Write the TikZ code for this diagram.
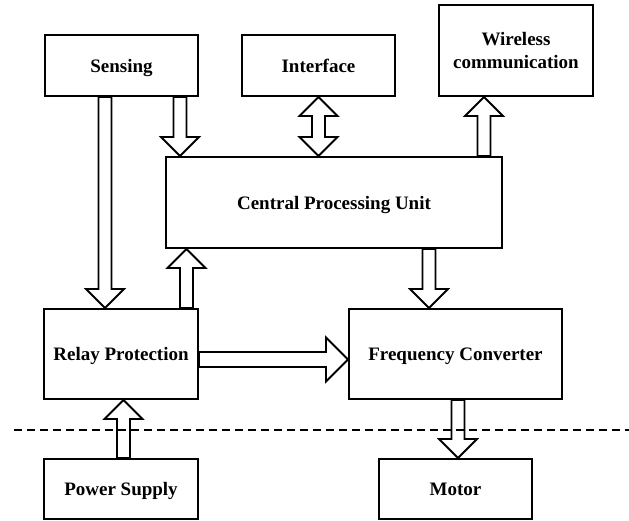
\documentclass[tikz,border=0pt]{standalone}
\usepackage{fontspec}
\setmainfont{Liberation Serif}
\usetikzlibrary{calc}

% hollow block arrow from #1 to #2 (named coordinates)
\def\arrShaft{6.5pt}
\def\arrHead{19pt}
\def\arrHeadL{19pt}
\newcommand\blockarr[2]{%
  \coordinate (hd) at ($(#2)!\arrHeadL!(#1)$);
  \draw[blockarrow] ($(#1)!\arrShaft!90:(#2)$) -- ($(hd)!\arrShaft!-90:(#1)$)
    -- ($(hd)!\arrHead!-90:(#1)$) -- (#2) -- ($(hd)!\arrHead!90:(#1)$)
    -- ($(hd)!\arrShaft!90:(#1)$) -- ($(#1)!\arrShaft!-90:(#2)$) -- cycle;}
% hollow double-headed block arrow between #1 and #2
\newcommand\blockdarr[2]{%
  \coordinate (ha) at ($(#1)!\arrHeadL!(#2)$);
  \coordinate (hb) at ($(#2)!\arrHeadL!(#1)$);
  \draw[blockarrow] (#1) -- ($(ha)!\arrHead!90:(#2)$) -- ($(ha)!\arrShaft!90:(#2)$)
    -- ($(hb)!\arrShaft!-90:(#1)$) -- ($(hb)!\arrHead!-90:(#1)$) -- (#2)
    -- ($(hb)!\arrHead!90:(#1)$) -- ($(hb)!\arrShaft!90:(#1)$)
    -- ($(ha)!\arrShaft!-90:(#2)$) -- ($(ha)!\arrHead!-90:(#2)$) -- cycle;}

\begin{document}
\begin{tikzpicture}[x=1pt,y=-1pt,
  box/.style={draw, line width=2pt, inner sep=0pt, align=center, text depth=0pt,
    font=\fontsize{19}{23}\selectfont\bfseries},
  blockarrow/.style={draw, line width=1.8pt, line join=miter},
  divider/.style={line width=1.8pt, dash pattern=on 8pt off 5pt}]
\useasboundingbox (0,0) rectangle (629,521);

\node[box, minimum width=153pt, minimum height=61pt] (sens)  at (121.5,65.5) {Sensing};
\node[box, minimum width=153pt, minimum height=61pt] (intf)  at (318.5,65.5) {Interface};
\node[box, minimum width=154pt, minimum height=91pt] (wire)  at (516,50.5) {Wireless\\communication};
\node[box, minimum width=336pt, minimum height=91pt] (cpu)   at (334,202.5) {Central Processing Unit};
\node[box, minimum width=154pt, minimum height=90pt] (relay) at (121,354) {Relay Protection};
\node[box, minimum width=213pt, minimum height=90pt] (freq)  at (455.5,354) {Frequency Converter};
\node[box, minimum width=154pt, minimum height=60pt] (power) at (121,489) {Power Supply};
\node[box, minimum width=153pt, minimum height=60pt] (motor) at (455.5,489) {Motor};

% dashed boundary line
\coordinate (dl) at (14,430);
\coordinate (dr) at (629,430);
\draw[divider] (dl) -- (dr);

% arrow end points
\coordinate (a1) at ($(sens.south west)+(61,0)$);   \coordinate (b1) at (a1 |- relay.north);
\coordinate (a2) at ($(sens.south west)+(136,0)$);  \coordinate (b2) at (a2 |- cpu.north);
\coordinate (a3) at (intf.south);                   \coordinate (b3) at (a3 |- cpu.north);
\coordinate (a4) at ($(cpu.north east)+(-19,0)$);   \coordinate (b4) at (a4 |- wire.south);
\coordinate (a5) at ($(relay.north east)+(-12.5,0)$); \coordinate (b5) at (a5 |- cpu.south);
\coordinate (b6) at ($(freq.north)+(-26.5,0)$);     \coordinate (a6) at (b6 |- cpu.south);
\coordinate (a7) at ($(relay.east)+(0,5.5)$);       \coordinate (b7) at (a7 -| freq.west);
\coordinate (a8) at ($(power.north)+(2.5,0)$);      \coordinate (b8) at (a8 |- relay.south);
\coordinate (a9) at ($(freq.south)+(2.5,0)$);       \coordinate (b9) at (a9 |- motor.north);

\blockarr{a1}{b1}
\blockarr{a2}{b2}
\blockdarr{a3}{b3}
\blockarr{a4}{b4}
\blockarr{a5}{b5}
\blockarr{a6}{b6}
{\def\arrShaft{7.5pt}\def\arrHead{22pt}\def\arrHeadL{22pt}\blockarr{a7}{b7}}
\blockarr{a8}{b8}
\blockarr{a9}{b9}
\end{tikzpicture}
\end{document}
